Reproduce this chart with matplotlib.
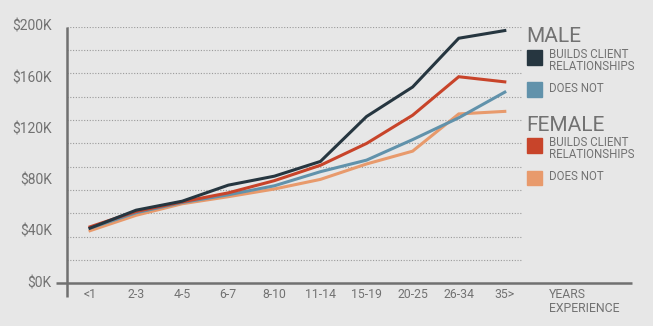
import matplotlib
matplotlib.use("Agg")
import matplotlib.pyplot as plt
import numpy as np

plt.rcParams['font.family'] = ['Roboto', 'DejaVu Sans']

# Years of experience buckets
categories = ["<1", "2-3", "4-5", "6-7", "8-10", "11-14", "15-19", "20-25", "26-34", "35>"]

# Median salary (thousands of dollars)
male_builds = [43, 57, 64, 76.5, 83.5, 95, 130, 153, 191, 197]
male_not = [43, 55, 63, 69, 76, 87, 96, 112, 129, 149]
female_builds = [44, 56, 63.5, 70.5, 80, 92, 109, 131, 161, 157]
female_not = [41, 53, 62, 67.5, 73.5, 81, 93, 103, 132, 134]

y_ticks = [0, 40, 80, 120, 160, 200]
y_tick_labels = ["$0K", "$40K", "$80K", "$120K", "$160K", "$200K"]

BG = "#e7e7e7"
TEXT = "#727272"
AXIS = "#707070"
C_MALE_B = "#263640"
C_MALE_N = "#6192ab"
C_FEM_B = "#c8442a"
C_FEM_N = "#e89a6c"

W, H = 653, 326
fig = plt.figure(figsize=(W / 100, H / 100), dpi=100, facecolor=BG)


def fx(x):
    return x / W


def fy(y):
    return 1 - y / H


ax = fig.add_axes([fx(67), fy(283.3), fx(632) - fx(67), fy(26.7) - fy(283.3)])
ax.set_facecolor(BG)
x = np.arange(len(categories))
ax.set_xlim(-0.5, 11.76)
ax.set_ylim(0, 200)

for s in ax.spines.values():
    s.set_visible(False)

# dotted guide lines
grid_vals = np.linspace(0, 200, 12)[1:]
ax.hlines(grid_vals, -0.5, 9.37, colors="#9a9a9a", linestyles=(0, (1, 1.5)), linewidth=0.8, zorder=1)

# axis lines
ax.plot([-0.5, -0.5], [-11, 200], color=AXIS, lw=1.8, clip_on=False, solid_capstyle="butt", zorder=3)
ax.plot([-0.74, 11.76], [0, 0], color=AXIS, lw=1.8, clip_on=False, solid_capstyle="butt", zorder=3)

series = [
    (female_not, C_FEM_N),
    (male_not, C_MALE_N),
    (female_builds, C_FEM_B),
    (male_builds, C_MALE_B),
]
for vals, col in series:
    ax.plot(x, vals, color=col, lw=2.2, solid_joinstyle="miter", zorder=4)

ax.set_xticks([])
ax.set_yticks([])

# y tick labels
for v, lab in zip(y_ticks, y_tick_labels):
    ax.text(-0.83, v, lab, ha="right", va="center", fontsize=10, color=TEXT)

# x tick labels
for xi, lab in zip(x, categories):
    ax.text(xi, -11.2, lab, ha="center", va="baseline", fontsize=8.8, color=TEXT)

fig.text(fx(549), fy(297.6), "YEARS", ha="left", va="baseline", fontsize=8.8, color=TEXT)
fig.text(fx(549), fy(311.6), "EXPERIENCE", ha="left", va="baseline", fontsize=8.8, color=TEXT)

# legend
def header(ybase, txt):
    fig.text(fx(526), fy(ybase), txt, ha="left", va="baseline", fontsize=15, color=TEXT)


def swatch(ytop, col):
    fig.patches.append(plt.Rectangle((fx(527), fy(ytop + 14.5)), fx(15), fy(0) - fy(14.5),
                                     transform=fig.transFigure, color=col, figure=fig))


def label(ycenter, txt):
    fig.text(fx(549), fy(ycenter), txt, ha="left", va="center", fontsize=8.3,
             color=TEXT, linespacing=0.95)


header(42, "MALE")
swatch(50, C_MALE_B)
label(60.5, "BUILDS CLIENT\nRELATIONSHIPS")
swatch(82, C_MALE_N)
label(88.5, "DOES NOT")
header(131, "FEMALE")
swatch(138.5, C_FEM_B)
label(148.5, "BUILDS CLIENT\nRELATIONSHIPS")
swatch(170.5, C_FEM_N)
label(177, "DOES NOT")

fig.savefig("out.png", dpi=100, facecolor=BG)
